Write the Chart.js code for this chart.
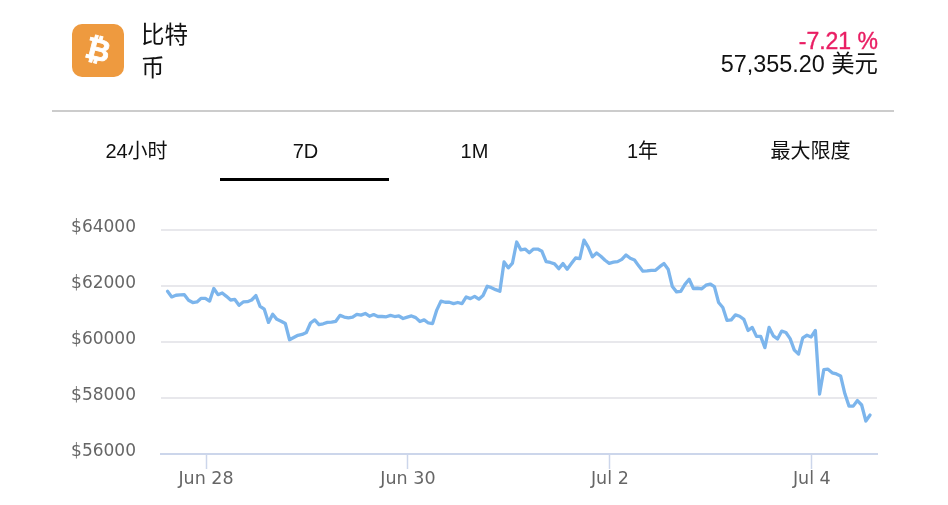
<!DOCTYPE html>
<html lang="zh">
<head>
<meta charset="utf-8">
<script src="https://cdn.jsdelivr.net/npm/chart.js@4/dist/chart.umd.min.js"></script>
<style>
html,body{margin:0;padding:0;background:#fff;width:948px;height:505px;overflow:hidden}
body{position:relative;font-family:"Liberation Sans","Noto Sans CJK SC",sans-serif;color:#111}
#wrap{position:absolute;left:0;top:0;width:948px;height:505px}
.abs{position:absolute;white-space:nowrap}
#logo{left:72px;top:24px;width:52px;height:53px;border-radius:10px;background:#ee9a3f;color:#fff;
 font:bold 30px "DejaVu Sans",sans-serif;line-height:51px;text-align:center;-webkit-text-stroke:.8px #fff}
#logo span{display:inline-block;transform:rotate(14deg)}
#name{left:141px;top:19px;width:50px;font-size:23.5px;line-height:33px;white-space:normal;word-break:break-all}
#chg{right:70px;top:28px;font-size:23px;line-height:26px;color:#e91e63;-webkit-text-stroke:.4px #e91e63}
#price{right:70px;top:50px;font-size:23.4px;line-height:28px}
#rule{left:52px;top:110px;width:842px;height:2px;background:#ccc}
.tab{top:139px;width:169px;text-align:center;font-size:20px;line-height:24px}
#bar{left:220px;top:178px;width:169px;height:3px;background:#000}
</style>
</head>
<body>
<div id="wrap"><canvas id="c" width="948" height="505"></canvas></div>
<div class="abs" id="logo"><span>₿</span></div>
<div class="abs" id="name">比特币</div>
<div class="abs" id="chg">-7.21 %</div>
<div class="abs" id="price">57,355.20 美元</div>
<div class="abs" id="rule"></div>
<div class="abs tab" style="left:52px">24小时</div>
<div class="abs tab" style="left:221px">7D</div>
<div class="abs tab" style="left:390px">1M</div>
<div class="abs tab" style="left:558px">1年</div>
<div class="abs tab" style="left:726px">最大限度</div>
<div class="abs" id="bar"></div>
<script>
const prices = [
61810,61610,61670,61680,61690,61490,61410,61430,61560,61560,61460,61910,61690,61750,61630,61500,61520,61310,61430,61440,61500,61660,61270,61170,60700,60990,60810,60740,60660,60080,60160,60240,60270,60340,60680,60790,60620,60650,60700,60710,60740,60950,
60890,60860,60890,60990,60960,61020,60920,60980,60910,60910,60900,60950,60910,60930,60840,60890,60930,60870,60730,60790,60680,60660,61140,61460,61420,61420,61370,61410,61370,61610,61550,61630,61530,61660,61990,61940,61870,61810,62860,62650,62820,63570,63290,63320,63190,63320,63320,63240,62870,62840,62790,62620,62800,62600,62800,63000,62980,63640,63390,63040,63180,63060,62920,62810,62850,62870,
62950,63110,62990,62930,62720,62530,62540,62560,62560,62690,62800,62600,61980,61790,61810,62060,62240,61910,61920,61900,62030,62070,61980,61410,61230,60770,60790,60970,60920,60810,60410,60520,60200,60200,59800,60520,60220,60110,60390,60340,60120,59710,59570,60150,60240,60180,60410,58140,59010,59030,58900,58860,58790,58160,57710,57710,57910,57750,57180,57390
];
const firstHour = -9.15;
const tickHours = [0, 48, 96, 144];
const tickLabels = ["Jun 28", "Jun 30", "Jul 2", "Jul 4"];
const yTicks = [56000, 58000, 60000, 62000, 64000];

const points = prices.map((p, i) => ({x: firstHour + i, y: p}));
new Chart(document.getElementById('c'), {
  type: 'line',
  data: {datasets: [{data: points, borderColor: '#7cb5ec', borderWidth: 3.3, pointRadius: 0,
    tension: 0, borderCapStyle: 'round', borderJoinStyle: 'round', fill: false, clip: false}]},
  options: {
    responsive: false, animation: false,
    layout: {padding: {left: 60, top: 230, right: 71, bottom: 11}},
    plugins: {legend: {display: false}, tooltip: {enabled: false}, title: {display: false}},
    scales: {
      x: {
        type: 'linear', min: -10.7, max: 159.5,
        afterFit(s){ s.height = 40; },
        afterBuildTicks(s){ s.ticks = tickHours.map(v => ({value: v})); },
        grid: {drawOnChartArea: false, drawTicks: true, tickLength: 15, tickColor: '#ccd6eb', tickWidth: 1.5},
        border: {color: '#ccd6eb', width: 2},
        ticks: {autoSkip: false, maxRotation: 0, padding: 0, color: '#666', font: {family: '"DejaVu Sans"', size: 17.5},
          callback(v){ return tickLabels[tickHours.indexOf(v)]; }}
      },
      y: {
        type: 'linear', min: 56000, max: 64000,
        afterFit(s){ s.width = 101; },
        afterBuildTicks(s){ s.ticks = yTicks.map(v => ({value: v})); },
        grid: {color: '#e8e8ec', lineWidth: 2, drawTicks: false},
        border: {display: false},
        ticks: {padding: 25, color: '#666', font: {family: '"DejaVu Sans"', size: 17}, labelOffset: -2,
          callback(v){ return '$' + v; }}
      }
    }
  }
});
</script>
</body>
</html>
